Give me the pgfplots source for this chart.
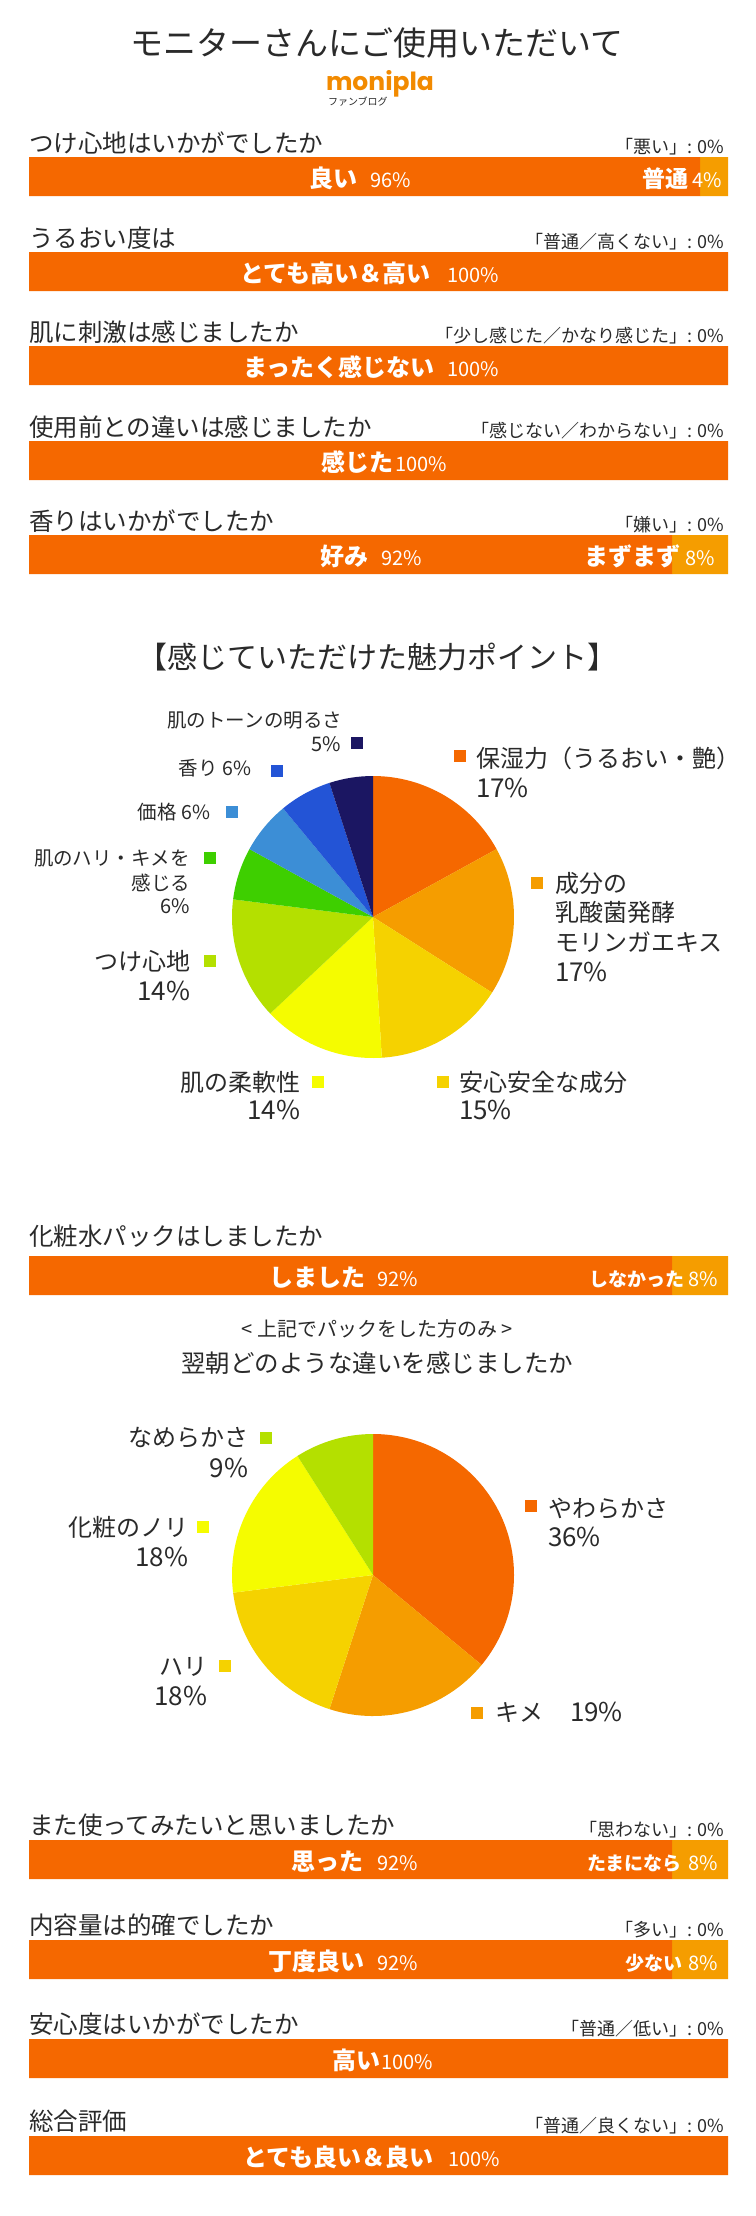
\documentclass[border=0pt]{standalone}
\usepackage{pgfplots}
\pgfplotsset{compat=1.18}
\usepackage{fontspec}
\setmainfont{Noto Sans CJK JP}
\newfontfamily\logofont{Poppins}
\newcommand\fs[1]{\fontsize{#1pt}{#1pt}\selectfont}
\definecolor{txt}{HTML}{2A2A2A}
\definecolor{barA}{HTML}{F56800}
\definecolor{barB}{HTML}{F59D00}
\definecolor{logo}{HTML}{F28A00}
\definecolor{pA}{HTML}{F56800}
\definecolor{pB}{HTML}{F59D00}
\definecolor{pC}{HTML}{F5D200}
\definecolor{pD}{HTML}{F5FC00}
\definecolor{pE}{HTML}{B4E000}
\definecolor{pF}{HTML}{3ECF00}
\definecolor{pG}{HTML}{3C8ED6}
\definecolor{pH}{HTML}{2354D6}
\definecolor{pI}{HTML}{1B1662}
\newcommand{\piewedges}[2]{%
  \xdef\cumsum{0}%
  \foreach \v/\c in {#1}{%
    \pgfmathsetmacro\sa{90-3.6*\cumsum}%
    \pgfmathsetmacro\ea{90-3.6*(\cumsum+\v)}%
    \edef\temp{\noexpand\fill[\c] (axis cs:0,0) -- ++(\sa:#2) arc[start angle=\sa, end angle=\ea, radius=#2] -- cycle;}%
    \temp
    \pgfmathsetmacro\ns{\cumsum+\v}%
    \xdef\cumsum{\ns}%
  }%
}
\newcommand\Q[2]{\node[anchor=base west] at (29,#1) {\fs{24.5}#2};}
\newcommand\N[2]{\node[anchor=base east] at (724,#1) {\fs{18}#2};}
\newcommand\BL[4]{\node[anchor=base west,text=white] at (#1,#2) {\fs{#3}\bfseries #4};}
\newcommand\PC[3]{\node[anchor=base west,text=white] at (#1,#2) {\fs{20}#3};}
\newcommand\SQ[3]{\node[anchor=center] at (#1,#2) {\textcolor{#3}{\rule{12pt}{12pt}}};}
\begin{document}
\begin{tikzpicture}
\useasboundingbox (0pt,0pt) rectangle (755pt,-2216pt);
\fill[white] (0pt,0pt) rectangle (755pt,-2216pt);
% ---------- horizontal stacked bars ----------
\begin{axis}[at={(29pt,0pt)}, anchor=origin, scale only axis,
  width=699pt, height=2216pt, xmin=0, xmax=100, ymin=0, ymax=2216,
  y dir=reverse, hide axis, clip=false,
  xbar stacked, bar width=39pt]
\addplot[fill=barA, draw=none] coordinates {(96,176.5) (100,271.5) (100,365.5) (100,460.5) (92,554.5) (92,1275.5) (92,1859.5) (92,1959.5) (100,2058.5) (100,2155.5)};
\addplot[fill=barB, draw=none] coordinates {(4,176.5) (0,271.5) (0,365.5) (0,460.5) (8,554.5) (8,1275.5) (8,1859.5) (8,1959.5) (0,2058.5) (0,2155.5)};
\end{axis}
% ---------- pie 1 ----------
\begin{axis}[at={(373pt,-917pt)}, anchor=origin, scale only axis,
  width=282pt, height=282pt, xmin=-1, xmax=1, ymin=-1, ymax=1, hide axis, clip=false]
\piewedges{17/pA,17/pB,15/pC,14/pD,14/pE,6/pF,6/pG,6/pH,5/pI}{141pt}
\end{axis}
% ---------- pie 2 ----------
\begin{axis}[at={(373pt,-1575pt)}, anchor=origin, scale only axis,
  width=282pt, height=282pt, xmin=-1, xmax=1, ymin=-1, ymax=1, hide axis, clip=false]
\piewedges{36/pA,19/pB,18/pC,18/pD,9/pE}{141pt}
\end{axis}
% ---------- texts ----------
\begin{scope}[x=1pt,y=-1pt, every node/.style={inner sep=0pt, outer sep=0pt, text=txt}]
\node[anchor=base] at (377,56) {\fs{33}モニターさんにご使用いただいて};
\node[anchor=base west, text=logo] at (326,90) {\logofont\bfseries\fs{25}monipla};
\node[anchor=base west] at (328,105) {\fs{10}ファンブログ};
% Q1
\Q{152}{つけ心地はいかがでしたか}
\N{153}{「悪い」: 0\%}
\BL{309}{187}{24}{良い}\PC{370}{187}{96\%}
\BL{642}{187}{23}{普通}\PC{692}{187}{4\%}
% Q2
\Q{247}{うるおい度は}
\N{248}{「普通／高くない」: 0\%}
\BL{240}{282}{24}{とても高い＆高い}\PC{447}{282}{100\%}
% Q3
\Q{341}{肌に刺激は感じましたか}
\N{342}{「少し感じた／かなり感じた」: 0\%}
\BL{243}{376}{24}{まったく感じない}\PC{447}{376}{100\%}
% Q4
\Q{436}{使用前との違いは感じましたか}
\N{437}{「感じない／わからない」: 0\%}
\BL{321}{471}{24}{感じた}\PC{395}{471}{100\%}
% Q5
\Q{530}{香りはいかがでしたか}
\N{531}{「嫌い」: 0\%}
\BL{320}{565}{24}{好み}\PC{381}{565}{92\%}
\BL{584}{565}{24}{まずまず}\PC{685}{565}{8\%}
% pie 1 title and labels
\node[anchor=base] at (377,668) {\fs{30}【感じていただけた魅力ポイント】};
\SQ{460}{756}{pA}
\node[anchor=base west] at (476,767) {\fs{24}保湿力（うるおい・艶）};
\node[anchor=base west] at (476,797) {\fs{26}17\%};
\SQ{537}{883}{pB}
\node[anchor=base west] at (555,892) {\fs{24}成分の};
\node[anchor=base west] at (555,921) {\fs{24}乳酸菌発酵};
\node[anchor=base west] at (555,951) {\fs{24}モリンガエキス};
\node[anchor=base west] at (555,981) {\fs{26}17\%};
\SQ{443}{1082}{pC}
\node[anchor=base west] at (459,1091) {\fs{24}安心安全な成分};
\node[anchor=base west] at (459,1119) {\fs{26}15\%};
\SQ{318}{1082}{pD}
\node[anchor=base east] at (300,1091) {\fs{24}肌の柔軟性};
\node[anchor=base east] at (300,1119) {\fs{26}14\%};
\SQ{210}{961}{pE}
\node[anchor=base east] at (190,970) {\fs{24}つけ心地};
\node[anchor=base east] at (190,1000) {\fs{26}14\%};
\SQ{210}{858}{pF}
\node[anchor=base east] at (190,865) {\fs{19.5}肌のハリ・キメを};
\node[anchor=base east] at (190,890) {\fs{19.5}感じる};
\node[anchor=base east] at (190,913) {\fs{20}6\%};
\SQ{232}{812}{pG}
\node[anchor=base east] at (210,819) {\fs{19.5}価格 6\%};
\SQ{277}{771}{pH}
\node[anchor=base east] at (251,775) {\fs{19.5}香り 6\%};
\SQ{357}{743}{pI}
\node[anchor=base east] at (342,727) {\fs{19.5}肌のトーンの明るさ};
\node[anchor=base east] at (341,751) {\fs{20}5\%};
% pack question
\Q{1245}{化粧水パックはしましたか}
\BL{269}{1286}{24}{しました}\PC{377}{1286}{92\%}
\BL{589}{1286}{19}{しなかった}\PC{688}{1286}{8\%}
\node[anchor=base] at (377,1336) {\fs{20}< 上記でパックをした方のみ >};
\node[anchor=base] at (377,1372) {\fs{24.5}翌朝どのような違いを感じましたか};
% pie 2 labels
\SQ{266}{1438}{pE}
\node[anchor=base east] at (248,1446) {\fs{24}なめらかさ};
\node[anchor=base east] at (248,1477) {\fs{26}9\%};
\SQ{203}{1527}{pD}
\node[anchor=base east] at (188,1536) {\fs{24}化粧のノリ};
\node[anchor=base east] at (188,1566) {\fs{26}18\%};
\SQ{225}{1666}{pC}
\node[anchor=base east] at (207,1675) {\fs{24}ハリ};
\node[anchor=base east] at (207,1705) {\fs{26}18\%};
\SQ{531}{1506}{pA}
\node[anchor=base west] at (548,1517) {\fs{24}やわらかさ};
\node[anchor=base west] at (548,1546) {\fs{26}36\%};
\SQ{477}{1713}{pB}
\node[anchor=base west] at (495,1721) {\fs{24}キメ};
\node[anchor=base west] at (570,1721) {\fs{26}19\%};
% bottom questions
\Q{1834}{また使ってみたいと思いましたか}
\N{1836}{「思わない」: 0\%}
\BL{291}{1870}{24}{思った}\PC{377}{1870}{92\%}
\BL{587}{1870}{19}{たまになら}\PC{688}{1870}{8\%}
\Q{1934}{内容量は的確でしたか}
\N{1936}{「多い」: 0\%}
\BL{268}{1970}{24}{丁度良い}\PC{377}{1970}{92\%}
\BL{625}{1970}{19}{少ない}\PC{688}{1970}{8\%}
\Q{2033}{安心度はいかがでしたか}
\N{2035}{「普通／低い」: 0\%}
\BL{332}{2069}{24}{高い}\PC{381}{2069}{100\%}
\Q{2130}{総合評価}
\N{2132}{「普通／良くない」: 0\%}
\BL{243}{2166}{24}{とても良い＆良い}\PC{448}{2166}{100\%}
\end{scope}
\end{tikzpicture}
\end{document}
